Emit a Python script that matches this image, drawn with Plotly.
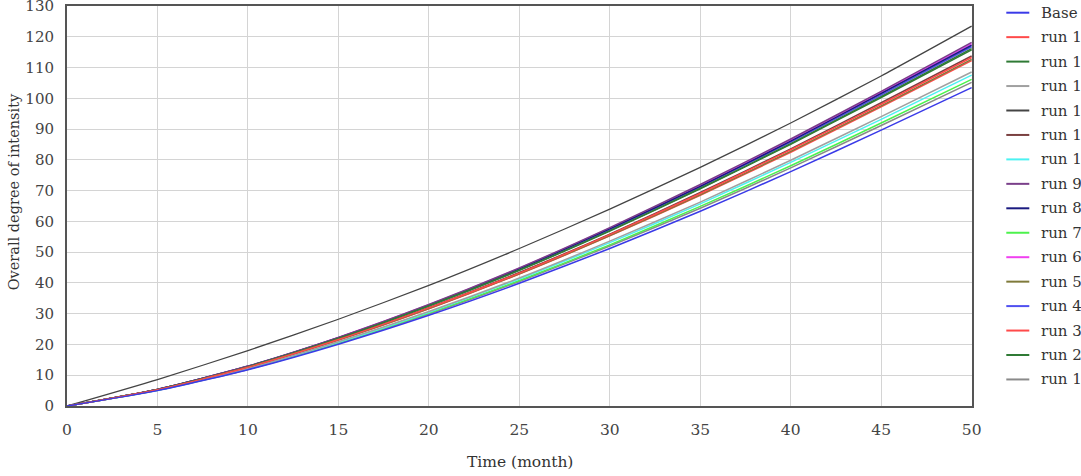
import plotly.graph_objects as go

months = [0, 5, 10, 15, 20, 25, 30, 35, 40, 45, 50]

series_names = ["Base", "run 15", "run 14", "run 13", "run 12", "run 11", "run 10",
                "run 9", "run 8", "run 7", "run 6", "run 5", "run 4", "run 3", "run 2", "run 1"]

base = [0, 5.0, 11.8, 20.1, 29.5, 39.9, 51.2, 63.3, 76.2, 89.7, 103.5]
run15 = [0, 5.3, 12.6, 21.6, 31.9, 43.2, 55.7, 69.1, 83.3, 98.1, 113.3]
run14 = [0, 5.4, 12.8, 22.0, 32.6, 44.2, 57.0, 70.8, 85.3, 100.6, 116.2]
run13 = [0, 5.2, 12.2, 20.9, 30.7, 41.6, 53.6, 66.3, 79.9, 94.1, 108.6]
run12 = [0, 8.6, 18.0, 28.2, 39.2, 51.2, 64.0, 77.6, 92.0, 107.3, 123.5]
run11 = [0, 5.3, 12.6, 21.7, 32.0, 43.4, 55.9, 69.4, 83.6, 98.6, 113.8]
run10 = [0, 5.1, 12.1, 20.7, 30.5, 41.3, 53.1, 65.7, 79.2, 93.2, 107.6]
run9 = [0, 5.4, 13.0, 22.3, 33.0, 44.9, 58.0, 72.0, 86.8, 102.3, 118.2]
run8 = [0, 5.4, 12.9, 22.2, 32.8, 44.6, 57.6, 71.4, 86.1, 101.6, 117.3]
run7 = [0, 5.1, 12.0, 20.5, 30.2, 40.8, 52.4, 64.9, 78.1, 92.0, 106.2]
run6 = [0, 5.4, 12.9, 22.3, 32.9, 44.8, 57.8, 71.7, 86.5, 102.0, 117.8]
run5 = [0, 5.3, 12.5, 21.5, 31.7, 43.0, 55.4, 68.7, 82.8, 97.6, 112.7]
run4 = [0, 5.4, 12.9, 22.1, 32.7, 44.4, 57.3, 71.2, 85.8, 101.1, 116.8]
run3 = [0, 5.3, 12.5, 21.4, 31.6, 42.9, 55.3, 68.5, 82.5, 97.3, 112.3]
run2 = [0, 5.4, 12.8, 22.0, 32.5, 44.1, 56.9, 70.6, 85.1, 100.3, 115.8]
run1 = [0, 5.1, 11.9, 20.4, 29.9, 40.5, 52.0, 64.3, 77.4, 91.2, 105.2]

series_values = [base, run15, run14, run13, run12, run11, run10,
                 run9, run8, run7, run6, run5, run4, run3, run2, run1]

colors = ["#3a3ae8", "#ff4a4a", "#2f7a35", "#a0a0a0", "#444444", "#7a4040", "#4cf2f2",
          "#7a3f8a", "#1a1a80", "#4cf24c", "#f040f0", "#7f7a3a", "#5050f0", "#ff4a4a",
          "#2f7a35", "#8a8a8a"]

x_ticks = [0, 5, 10, 15, 20, 25, 30, 35, 40, 45, 50]
y_ticks = [0, 10, 20, 30, 40, 50, 60, 70, 80, 90, 100, 110, 120, 130]

FONT = "DejaVu Serif"
W, H = 1081, 476
L, R, T, B = 66.7, 971.7, 6, 406

fig = go.Figure()
draw_order = list(range(len(series_names)))[::-1]
for i in draw_order:
    fig.add_trace(go.Scatter(
        x=months, y=series_values[i], mode="lines", name=series_names[i],
        line=dict(color=colors[i], width=1.5 if i != 4 else 1.3, shape="spline", smoothing=0.6),
        showlegend=False))

shapes = []
annotations = []
pw = R - L
for i, name in enumerate(series_names):
    ypx = 12.7 + 24.45 * i
    yp = (B - ypx) / (B - T)
    shapes.append(dict(type="line", xref="paper", yref="paper",
                       x0=(1006 - L) / pw, x1=(1029 - L) / pw, y0=yp, y1=yp,
                       line=dict(color=colors[i], width=2)))
    annotations.append(dict(xref="paper", yref="paper", x=(1039 - L) / pw, y=yp,
                            xanchor="left", yanchor="middle", text=name, showarrow=False,
                            font=dict(family=FONT, size=15, color="#333333")))

annotations.append(dict(xref="paper", yref="paper", x=(14 - L) / pw, y=(B - 192) / (B - T),
                        xanchor="center", yanchor="middle", textangle=-90,
                        text="Overall degree of intensity", showarrow=False,
                        font=dict(family=FONT, size=14.5, color="#333333")))
annotations.append(dict(xref="paper", yref="paper", x=0.5, y=(B - 462) / (B - T),
                        xanchor="center", yanchor="middle",
                        text="Time (month)", showarrow=False,
                        font=dict(family=FONT, size=15.5, color="#333333")))

fig.update_layout(
    width=W, height=H,
    margin=dict(l=L, r=W - R, t=T, b=H - B, pad=0, autoexpand=False),
    paper_bgcolor="white", plot_bgcolor="white",
    shapes=shapes, annotations=annotations,
    xaxis=dict(range=[0, 50.02], tickvals=x_ticks, showgrid=True, gridcolor="#d4d4d4", gridwidth=1,
               showline=True, linecolor="#555555", linewidth=2, mirror=True, zeroline=False,
               ticks="", ticklabelstandoff=8, ticklabeloverflow="allow", automargin=False,
               tickfont=dict(family=FONT, size=15.5, color="#444444")),
    yaxis=dict(range=[0, 130.05], tickvals=y_ticks, showgrid=True, gridcolor="#d4d4d4", gridwidth=1,
               showline=True, linecolor="#555555", linewidth=2, mirror=True, zeroline=False,
               ticks="", ticklabelstandoff=8, ticklabeloverflow="allow", automargin=False,
               tickfont=dict(family=FONT, size=15, color="#444444")),
)

fig.write_html("out.html")
